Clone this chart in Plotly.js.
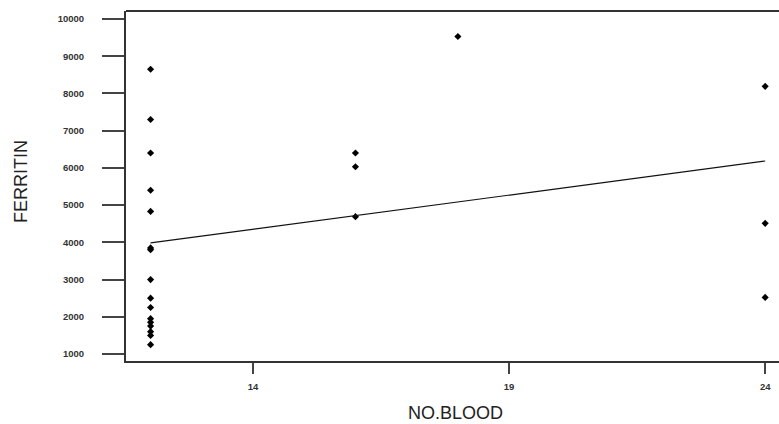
<!DOCTYPE html>
<html>
<head>
<meta charset="utf-8">
<script src="https://cdn.plot.ly/plotly-3.0.1.min.js"></script>
<style>html,body{margin:0;padding:0;background:#fff;}#chart{width:779px;height:424px;}</style>
</head>
<body>
<div id="chart"></div>
<script>
// Observed points (NO.BLOOD vs FERRITIN)
const noBlood = [12,12,12,12,12,12,12,12,12,12,12,12,12,12,12,12, 16,16,16, 18, 24,24,24];
const ferritin = [8650,7300,6400,5400,4830,3850,3800,3000,2500,2250,1950,1850,1750,1600,1500,1250, 6400,6030,4690, 9530, 8190,4510,2520];
// Fitted line
const fitX = [12, 24];
const fitY = [3985, 6185];
const xTicks = [14, 19, 24];
const xTickText = ['14', '19', '24'];
const yTicks = [1000,2000,3000,4000,5000,6000,7000,8000,9000,10000];
const yTickText = ['1000','2000','3000','4000','5000','6000','7000','8000','9000','10000'];
const xTitle = 'NO.BLOOD';
const yTitle = 'FERRITIN';

const data = [
  {x: noBlood, y: ferritin, type: 'scatter', mode: 'markers',
   marker: {symbol: 'diamond', size: 5.5, color: '#000'}, hoverinfo: 'skip'},
  {x: fitX, y: fitY, type: 'scatter', mode: 'lines',
   line: {color: '#111', width: 1.2}, hoverinfo: 'skip'}
];
const tickFont = {family: 'Liberation Sans, Arial, sans-serif', size: 9.5, color: '#333', weight: 'bold'};
const layout = {
  width: 779, height: 424,
  margin: {l: 126, r: 0, t: 11, b: 63, pad: 0},
  paper_bgcolor: '#fff', plot_bgcolor: '#fff',
  showlegend: false,
  xaxis: {range: [11.52, 24.27], tickvals: xTicks, ticktext: xTickText, ticks: 'outside', ticklen: 11, tickwidth: 2, tickcolor: '#444',
          showline: true, linecolor: '#333', linewidth: 2, showgrid: false, zeroline: false,
          tickfont: tickFont, ticklabelstandoff: 5},
  yaxis: {range: [812, 10215], tickvals: yTicks, ticktext: yTickText, ticks: 'outside', ticklen: 22, tickwidth: 2, tickcolor: '#444',
          showline: true, linecolor: '#333', linewidth: 2, showgrid: false, zeroline: false,
          tickfont: tickFont, ticklabelstandoff: 16},
  shapes: [{type: 'line', xref: 'paper', yref: 'paper', x0: 0, x1: 1, y0: 1, y1: 1,
            line: {color: '#333', width: 2}}],
  annotations: [
    {text: xTitle, xref: 'paper', yref: 'paper', x: 0.505, y: -0.149, xanchor: 'center', yanchor: 'middle',
     showarrow: false, font: {family: 'Liberation Sans, Arial, sans-serif', size: 18, color: '#222'}},
    {text: yTitle, xref: 'paper', yref: 'paper', x: -0.1608, y: 0.514, xanchor: 'center', yanchor: 'middle',
     textangle: -90, showarrow: false, font: {family: 'Liberation Sans, Arial, sans-serif', size: 18, color: '#222'}}
  ]
};
Plotly.newPlot('chart', data, layout, {staticPlot: true, displayModeBar: false});
</script>
</body>
</html>
